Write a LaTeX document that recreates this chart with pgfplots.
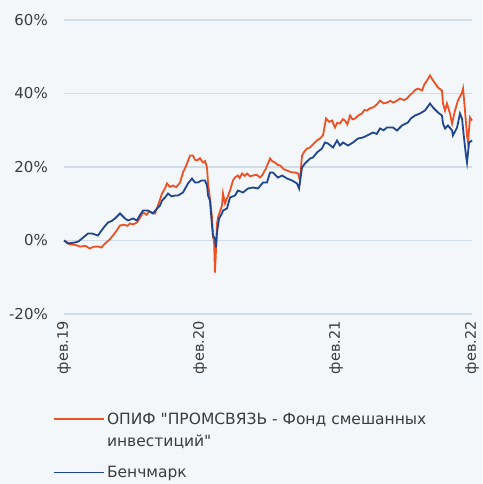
\documentclass[border=0pt]{standalone}
\usepackage{pgfplots}
\pgfplotsset{compat=1.18}
\usepackage{fontspec}
\setmainfont{DejaVu Sans}
\definecolor{bgc}{RGB}{243,247,250}
\definecolor{gridc}{RGB}{208,220,231}
\definecolor{fundc}{RGB}{240,80,35}
\definecolor{benchc}{RGB}{32,70,145}
\definecolor{txtc}{RGB}{60,60,60}
\pgfplotsset{
  fundleg/.style={legend image code/.code={\draw[fundc, line width=1.8pt] (0pt,11pt) -- (50pt,11pt); \path (0pt,-11pt);}},
  benchleg/.style={legend image code/.code={\draw[benchc, line width=1.8pt] (0pt,0pt) -- (50pt,0pt);}},
}
\begin{document}
\begin{tikzpicture}
\path[use as bounding box, fill=bgc] (-64pt,314pt) rectangle (418pt,-170pt);
\begin{axis}[
  at={(0,0)}, anchor=south west,
  scale only axis, width=408pt, height=294pt,
  xmin=0, xmax=36, ymin=-20, ymax=60,
  axis line style={draw=none},
  major tick length=0pt,
  ymajorgrids, grid style={gridc, line width=1.2pt},
  ytick={-20,0,20,40,60},
  yticklabels={-20\%,0\%,20\%,40\%,60\%},
  xtick={0,12,24,36},
  xticklabels={фев.19,фев.20,фев.21,фев.22},
  font=\fontsize{15pt}{22pt}\selectfont,
  tick label style={text=txtc},
  yticklabel style={anchor=east, inner sep=0pt, xshift=-16pt},
  xticklabel style={rotate=90, anchor=east, inner sep=0pt, xshift=-7pt, font=\fontsize{14.5pt}{16pt}\selectfont},
  clip=false,
  legend style={at={(-0.0343,-0.321)}, anchor=north west, draw=none, fill=none,
    text=txtc, row sep=14.5pt, cells={align=left, anchor=west},
    font=\fontsize{15.5pt}{22pt}\selectfont},
]
\addplot[fundc, line width=1.8pt, fundleg] coordinates {
(0,0) (0.3,-0.5) (0.53,-1.09) (1.0,-1.2) (1.41,-1.63) (1.9,-1.5) (2.29,-2.18) (2.6,-1.7) (3.0,-1.63) (3.3,-1.9) (3.62,-0.82) (4.0,0.2) (4.32,1.36) (4.6,2.5) (4.94,4.08) (5.3,4.3) (5.6,4.0) (5.82,4.63) (6.1,4.4) (6.44,4.90) (6.7,6.2) (6.97,7.62) (7.3,7.0) (7.5,7.9) (7.76,7.62) (8.03,7.35) (8.29,9.52) (8.65,12.79) (8.91,14.15) (9.09,15.51) (9.35,14.6) (9.62,14.97) (9.9,14.5) (10.24,15.78) (10.5,18.5) (10.8,20.5) (11.12,23.13) (11.38,23.13) (11.55,22.0) (11.74,21.77) (12.0,22.4) (12.26,21.22) (12.45,21.6) (12.62,19.86) (12.71,15.51) (12.88,11.43) (13.06,6.26) (13.15,0.82) (13.24,0) (13.32,-8.71) (13.41,-2.72) (13.5,4.63) (13.59,6.26) (13.94,9.52) (14.03,12.79) (14.21,10.07) (14.38,11.43) (14.65,13.6) (14.91,16.33) (15.1,17.2) (15.35,17.69) (15.5,17.0) (15.71,18.23) (15.95,17.6) (16.15,18.23) (16.4,17.5) (16.68,17.69) (17.0,17.9) (17.29,17.14) (17.47,17.69) (17.8,19.5) (18.18,22.31) (18.4,21.5) (18.62,21.22) (18.85,20.6) (19.06,20.41) (19.4,19.4) (19.68,19.05) (20.0,18.6) (20.38,18.5) (20.65,18.23) (20.82,16.33) (21.0,23.13) (21.2,24.2) (21.44,25.03) (21.65,25.2) (21.88,25.85) (22.1,26.6) (22.32,27.21) (22.6,27.8) (22.85,28.57) (23.12,33.2) (23.4,32.3) (23.65,32.65) (23.91,30.75) (24.1,32.0) (24.35,31.84) (24.6,33.0) (24.79,32.65) (25.0,31.6) (25.24,34.01) (25.45,33.0) (25.68,33.2) (26.0,34.1) (26.29,34.56) (26.5,35.5) (26.74,35.37) (27.0,36.0) (27.26,36.19) (27.6,37.0) (27.88,38.09) (28.2,37.3) (28.5,37.55) (28.8,38.0) (29.03,37.55) (29.3,37.9) (29.65,38.64) (30.0,38.2) (30.26,38.64) (30.5,39.5) (30.79,40.27) (31.0,41.0) (31.24,41.36) (31.59,40.82) (31.8,42.5) (32.03,43.54) (32.29,44.9) (32.56,43.54) (32.8,42.5) (33.0,41.63) (33.35,40.82) (33.44,37.28) (33.62,35.37) (33.79,37.28) (34.06,34.56) (34.24,31.84) (34.5,35.37) (34.76,38.09) (35.12,40.27) (35.21,41.36) (35.38,35.37) (35.56,28.57) (35.65,26.67) (35.82,33.47) (36.0,32.65)
};
\addlegendentry{ОПИФ \textquotedbl ПРОМСВЯЗЬ - Фонд смешанных\\инвестиций\textquotedbl}
\addplot[benchc, line width=1.8pt, benchleg] coordinates {
(0,0) (0.35,-0.82) (0.97,-0.54) (1.3,-0.2) (1.59,0.54) (2.12,1.9) (2.47,1.9) (3.0,1.36) (3.18,2.18) (3.5,3.5) (3.88,4.9) (4.2,5.3) (4.5,5.99) (4.94,7.35) (5.38,5.99) (5.65,5.44) (6.09,5.99) (6.44,5.44) (6.7,6.9) (6.97,8.16) (7.41,8.16) (7.85,7.35) (8.21,8.71) (8.47,9.52) (8.65,10.88) (8.91,11.7) (9.18,12.79) (9.5,12.0) (9.79,12.24) (10.06,12.24) (10.5,13.06) (10.94,15.51) (11.29,16.87) (11.56,15.78) (11.82,15.78) (12.1,16.3) (12.44,16.33) (12.62,14.97) (12.71,12.24) (12.88,10.88) (13.06,4.08) (13.15,1.36) (13.32,0.54) (13.41,-1.9) (13.5,2.18) (13.68,5.99) (13.94,7.35) (14.03,8.16) (14.38,8.71) (14.65,11.7) (15.09,12.24) (15.35,13.6) (15.79,13.06) (16.24,14.15) (16.68,14.42) (17.12,14.15) (17.56,15.78) (17.91,15.78) (18.18,18.5) (18.44,18.5) (18.88,17.14) (19.24,17.69) (19.68,16.87) (20.12,16.33) (20.56,15.51) (20.74,14.15) (21.0,19.86) (21.26,20.95) (21.71,22.31) (21.97,22.58) (22.32,23.95) (22.76,25.03) (23.03,26.67) (23.29,26.39) (23.74,25.31) (24.09,27.21) (24.35,25.85) (24.62,26.67) (25.06,25.85) (25.5,26.67) (25.94,27.75) (26.38,28.03) (26.74,28.57) (27.26,29.39) (27.6,29.0) (27.88,30.48) (28.2,30.0) (28.5,30.75) (29.03,30.75) (29.38,29.93) (29.82,31.29) (30.35,32.11) (30.6,33.2) (30.97,34.01) (31.41,34.56) (31.85,35.37) (32.29,37.28) (32.56,36.19) (33.0,34.83) (33.35,34.01) (33.44,31.84) (33.62,30.48) (33.88,31.29) (34.24,29.93) (34.32,28.57) (34.68,30.75) (34.94,34.56) (35.12,33.2) (35.29,28.03) (35.47,23.13) (35.56,21.22) (35.74,26.67) (36.0,27.21)
};
\addlegendentry{Бенчмарк}
\end{axis}
\end{tikzpicture}
\end{document}
